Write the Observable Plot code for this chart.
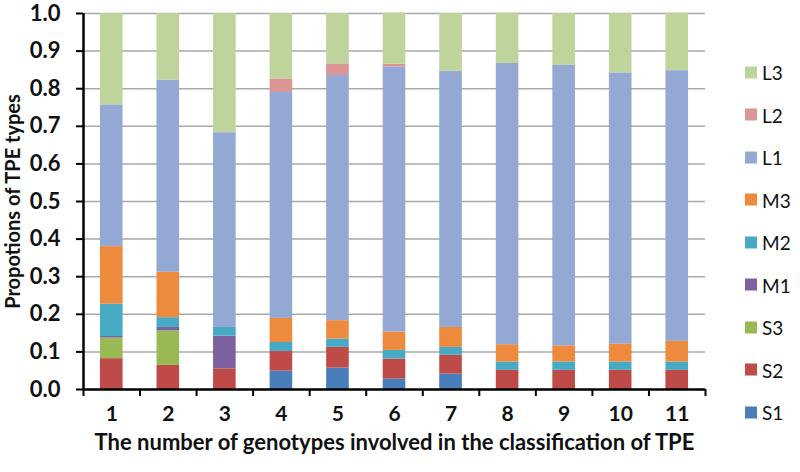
<!DOCTYPE html>
<html>
<head>
<meta charset="utf-8">
<script src="https://cdn.jsdelivr.net/npm/d3@7"></script>
<script src="https://cdn.jsdelivr.net/npm/@observablehq/plot@0.6"></script>
<style>
  html, body { margin: 0; padding: 0; background: #fff; }
  #wrap { position: relative; width: 800px; height: 472px; }
  #legend { position: absolute; left: 745px; top: 0; font-family: Lato, "Open Sans", sans-serif; font-size: 19px; color: #111; }
  .li { position: absolute; left: 0; display: flex; align-items: center; white-space: nowrap; transform: translateY(-50%); }
  .sw { width: 12px; height: 12px; margin-right: 5px; }
</style>
</head>
<body>
<div id="wrap"><div id="legend"></div></div>
<script>
// Categories: number of genotypes
const categories = [1, 2, 3, 4, 5, 6, 7, 8, 9, 10, 11];
// TPE types in stacking order (bottom to top)
const types = ["S1", "S2", "S3", "M1", "M2", "M3", "L1", "L2", "L3"];
const colors = ["#4A7EBB", "#BE4B48", "#98B954", "#7D60A0", "#46AAC5", "#EE8A3D", "#93A9D4", "#D99694", "#BFD49A"];

// Proportions per type, one value per category
const S1 = [0.000, 0.000, 0.000, 0.049, 0.057, 0.028, 0.041, 0.000, 0.000, 0.000, 0.000];
const S2 = [0.082, 0.064, 0.055, 0.052, 0.055, 0.053, 0.050, 0.051, 0.051, 0.051, 0.051];
const S3 = [0.055, 0.092, 0.000, 0.000, 0.000, 0.000, 0.000, 0.000, 0.000, 0.000, 0.000];
const M1 = [0.004, 0.009, 0.087, 0.000, 0.000, 0.000, 0.000, 0.000, 0.000, 0.000, 0.000];
const M2 = [0.086, 0.026, 0.023, 0.024, 0.022, 0.023, 0.021, 0.022, 0.022, 0.022, 0.022];
const M3 = [0.153, 0.121, 0.000, 0.064, 0.049, 0.049, 0.053, 0.046, 0.043, 0.048, 0.055];
const L1 = [0.377, 0.511, 0.518, 0.601, 0.652, 0.705, 0.682, 0.748, 0.746, 0.721, 0.720];
const L2 = [0.000, 0.000, 0.000, 0.036, 0.031, 0.007, 0.000, 0.000, 0.000, 0.000, 0.000];
const L3 = [0.243, 0.177, 0.317, 0.174, 0.134, 0.136, 0.153, 0.134, 0.138, 0.158, 0.153];

const yTicks = [0, 0.1, 0.2, 0.3, 0.4, 0.5, 0.6, 0.7, 0.8, 0.9, 1.0];
const xTitle = "The number of genotypes involved in the classification of TPE";
const yTitle = "Propotions of TPE types";

const series = {S1, S2, S3, M1, M2, M3, L1, L2, L3};
const data = [];
categories.forEach((n, i) => {
  types.forEach(t => data.push({n, type: t, value: series[t][i]}));
});
const boundaries = [...categories.map(n => n - 0.5), categories[categories.length - 1] + 0.5];
const half = 0.2; // bar half-width in category units

const font = "Lato, 'Open Sans', sans-serif";

const chart = Plot.plot({
  width: 800,
  height: 472,
  marginLeft: 83,
  marginRight: 95,
  marginTop: 13,
  marginBottom: 83,
  style: {fontFamily: font, fontSize: "19px", fontWeight: "bold", color: "#111", background: "#fff"},
  x: {type: "linear", domain: [boundaries[0], boundaries[boundaries.length - 1]], axis: null},
  y: {domain: [0, 1], axis: null},
  color: {domain: types, range: colors},
  marks: [
    Plot.gridY(yTicks.slice(1), {stroke: "#A9A9A9", strokeOpacity: 1, strokeWidth: 1.5}),
    Plot.rectY(data, {x1: d => d.n - half, x2: d => d.n + half, y: "value", fill: "type", order: types}),
    Plot.axisY(yTicks, {tickSize: 7, tickFormat: () => "", stroke: "#000", strokeWidth: 2, label: null}),
    Plot.axisX(boundaries, {tickSize: 7, tickFormat: () => "", stroke: "#000", strokeWidth: 2, label: null}),
    Plot.text(yTicks, {y: d => d, text: d3.format(".1f"), frameAnchor: "left", textAnchor: "end", dx: -23, fontSize: 22, fontWeight: "bold", fill: "#111"}),
    Plot.text(categories, {x: d => d, text: d => String(d), frameAnchor: "bottom", lineAnchor: "middle", dy: 25, fontSize: 21, fontWeight: "bold", fill: "#111"}),
    Plot.ruleX([boundaries[0]], {stroke: "#000", strokeWidth: 2.5}),
    Plot.ruleY([0], {stroke: "#000", strokeWidth: 2.5}),
    Plot.text([xTitle], {frameAnchor: "bottom", dy: 60, fontSize: 22, fontWeight: "bold", fill: "#111"}),
    Plot.text([yTitle], {frameAnchor: "left", textAnchor: "middle", dx: -70, rotate: -90, fontSize: 20, fontWeight: "bold", fill: "#111"})
  ]
});
document.getElementById("wrap").prepend(chart);

// Legend (top to bottom: L3 ... S1)
const legend = document.getElementById("legend");
const legendTypes = types.slice().reverse();
legendTypes.forEach((t, i) => {
  const row = document.createElement("div");
  row.className = "li";
  row.style.top = (72 + i * 42.5) + "px";
  const sw = document.createElement("span");
  sw.className = "sw";
  sw.style.background = colors[types.indexOf(t)];
  const lab = document.createElement("span");
  lab.textContent = t;
  row.append(sw, lab);
  legend.append(row);
});
</script>
</body>
</html>
